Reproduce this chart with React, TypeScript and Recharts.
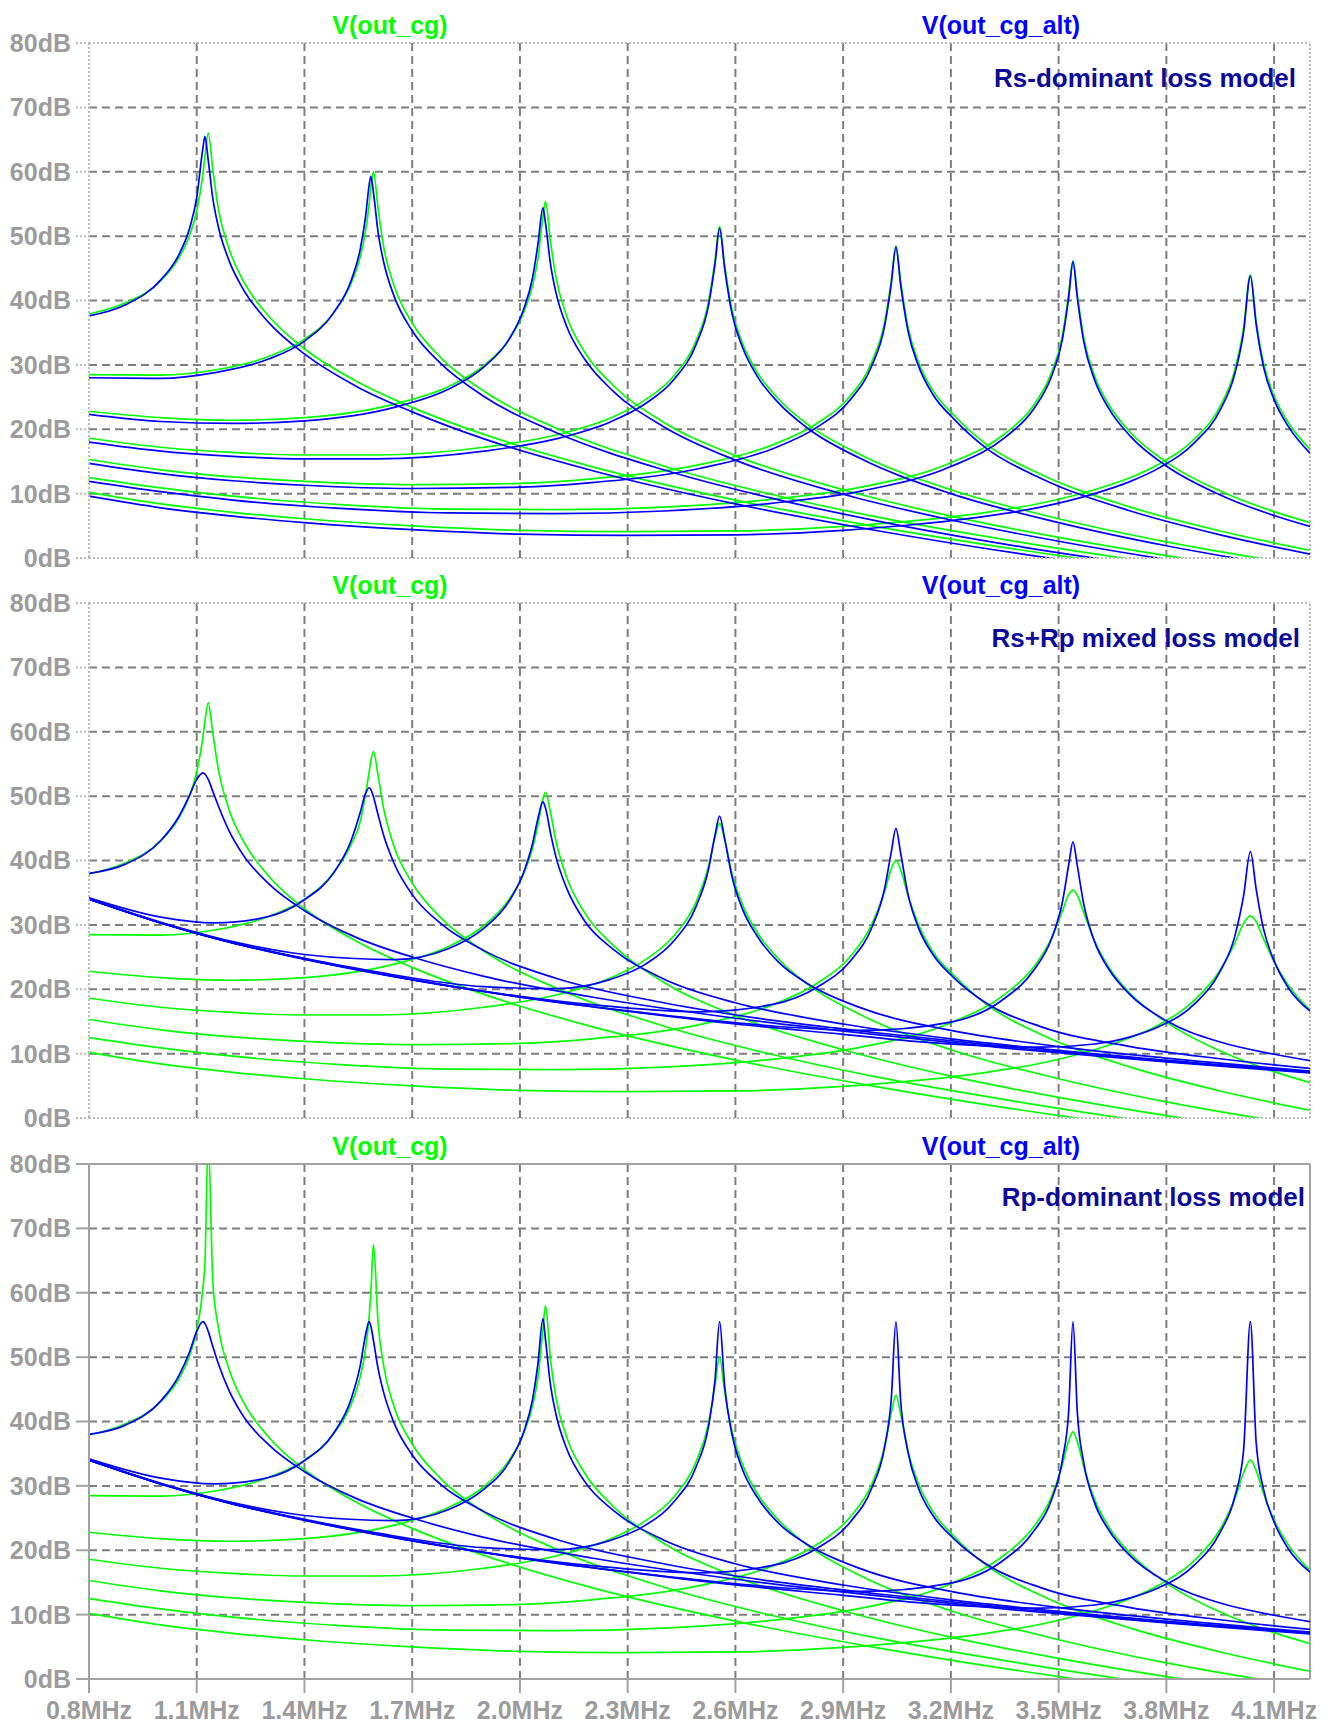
import React from "react";
import { LineChart, Line, XAxis, YAxis, ReferenceLine } from "recharts";

// axis ticks
const X_TICKS = [0.8, 1.1, 1.4, 1.7, 2.0, 2.3, 2.6, 2.9, 3.2, 3.5, 3.8, 4.1];
const Y_TICKS = [0, 10, 20, 30, 40, 50, 60, 70, 80];

// frequency points (MHz) read for each of the 7 stepped resonances
const F1 = [0.8, 0.9, 1.0, 1.05, 1.08, 1.1, 1.117, 1.123, 1.132, 1.145, 1.16, 1.19, 1.23, 1.3, 1.4, 1.55, 1.7, 1.9, 2.2, 2.6, 3.0, 3.4, 3.8, 4.2];
const F2 = [0.8, 1.0, 1.15, 1.3, 1.4, 1.48, 1.53, 1.555, 1.57, 1.58, 1.585, 1.592, 1.605, 1.62, 1.65, 1.7, 1.78, 1.9, 2.1, 2.4, 2.7, 3.0, 3.4, 3.8, 4.2];
const F3 = [0.8, 1.0, 1.2, 1.4, 1.65, 1.8, 1.9, 1.97, 2.01, 2.035, 2.05, 2.064, 2.071, 2.085, 2.1, 2.13, 2.18, 2.26, 2.4, 2.6, 2.9, 3.2, 3.5, 3.9, 4.2];
const F4 = [0.8, 1.0, 1.2, 1.4, 1.6, 1.9, 2.1, 2.25, 2.35, 2.43, 2.49, 2.525, 2.543, 2.556, 2.57, 2.59, 2.62, 2.66, 2.72, 2.8, 2.95, 3.2, 3.5, 3.8, 4.2];
const F5 = [0.8, 1.0, 1.2, 1.4, 1.7, 2.0, 2.2, 2.5, 2.7, 2.83, 2.92, 2.98, 3.015, 3.034, 3.047, 3.06, 3.08, 3.11, 3.15, 3.21, 3.3, 3.45, 3.7, 3.95, 4.2];
const F6 = [0.8, 1.0, 1.2, 1.5, 1.8, 2.1, 2.4, 2.7, 2.95, 3.2, 3.35, 3.43, 3.48, 3.51, 3.528, 3.54, 3.552, 3.57, 3.6, 3.64, 3.7, 3.8, 3.95, 4.1, 4.2];
const F7 = [0.8, 1.0, 1.2, 1.4, 1.7, 2.0, 2.3, 2.6, 2.9, 3.1, 3.3, 3.45, 3.6, 3.7, 3.78, 3.88, 3.95, 3.99, 4.015, 4.034, 4.05, 4.07, 4.1, 4.14, 4.2];

// Rs-dominant, V(out_cg) in dB
const RS_CG_1 = [37.9, 39.6, 43.1, 46.6, 50.1, 53.9, 59.5, 62.5, 66.0, 60.2, 54.3, 48.0, 43.0, 37.6, 32.5, 27.3, 23.4, 19.2, 14.2, 9.0, 4.8, 1.2, -1.9, -4.6];
const RS_CG_2 = [28.5, 28.4, 29.2, 31.3, 34.0, 38.0, 42.7, 46.7, 50.8, 54.9, 57.6, 60.0, 54.3, 48.5, 42.2, 36.5, 31.1, 25.9, 20.2, 14.3, 9.9, 6.3, 2.4, -1.0, -3.9];
const RS_CG_3 = [22.8, 21.8, 21.4, 21.8, 23.9, 26.6, 29.9, 34.0, 38.1, 42.3, 46.5, 53.0, 55.4, 49.2, 43.7, 37.6, 32.0, 26.8, 21.1, 15.9, 10.6, 6.5, 3.2, -0.5, -2.9];
const RS_CG_4 = [18.6, 17.2, 16.4, 16.0, 16.0, 17.2, 19.1, 21.7, 24.6, 28.4, 33.7, 39.8, 46.1, 51.5, 45.5, 38.7, 33.3, 28.9, 24.7, 20.8, 16.0, 10.6, 6.1, 2.5, -1.3];
const RS_CG_5 = [15.3, 13.7, 12.6, 11.9, 11.4, 11.6, 12.3, 14.5, 17.5, 21.0, 25.2, 30.5, 36.5, 43.1, 48.5, 43.0, 36.0, 30.4, 26.0, 22.1, 17.6, 13.0, 7.9, 4.2, 1.2];
const RS_CG_6 = [12.5, 10.9, 9.6, 8.3, 7.6, 7.5, 7.9, 9.1, 11.0, 14.8, 19.3, 23.7, 28.8, 34.4, 41.0, 46.2, 40.9, 34.2, 28.3, 23.8, 19.5, 14.9, 10.4, 7.2, 5.5];
const RS_CG_7 = [10.2, 8.4, 7.1, 6.1, 5.0, 4.3, 4.1, 4.2, 4.9, 5.8, 7.1, 8.5, 10.6, 12.5, 14.6, 18.6, 23.6, 29.1, 35.7, 44.0, 36.8, 30.4, 25.2, 21.0, 16.9];

// Rs-dominant, V(out_cg_alt)
const RS_ALT_1 = [37.6, 39.3, 43.2, 47.1, 51.2, 56.0, 63.6, 65.5, 61.8, 55.8, 51.5, 46.2, 41.7, 36.6, 31.7, 26.5, 22.7, 18.5, 13.6, 8.4, 4.2, 0.6, -2.5, -5.2];
const RS_ALT_2 = [28.0, 27.9, 28.8, 30.9, 33.7, 38.0, 43.1, 47.9, 53.0, 57.9, 59.3, 56.8, 50.6, 46.1, 40.6, 35.3, 30.2, 25.1, 19.5, 13.7, 9.3, 5.7, 1.7, -1.6, -4.5];
const RS_ALT_3 = [22.3, 21.2, 20.9, 21.3, 23.4, 26.2, 29.7, 34.0, 38.6, 43.5, 48.7, 54.4, 52.1, 45.7, 41.3, 36.0, 30.9, 25.9, 20.4, 15.2, 9.9, 5.9, 2.6, -1.1, -3.5];
const RS_ALT_4 = [18.0, 16.6, 15.8, 15.4, 15.4, 16.6, 18.5, 21.1, 24.0, 27.8, 33.1, 39.2, 45.6, 51.2, 45.0, 38.1, 32.7, 28.3, 24.1, 20.2, 15.4, 10.0, 5.5, 1.9, -1.9];
const RS_ALT_5 = [14.7, 13.1, 12.0, 11.3, 10.8, 11.0, 11.7, 13.9, 16.9, 20.4, 24.6, 29.9, 35.9, 42.6, 48.3, 42.5, 35.4, 29.8, 25.4, 21.5, 17.0, 12.4, 7.3, 3.6, 0.6];
const RS_ALT_6 = [11.9, 10.3, 9.0, 7.7, 7.0, 6.9, 7.3, 8.5, 10.4, 14.2, 18.7, 23.1, 28.2, 33.8, 40.5, 46.0, 40.5, 33.6, 27.7, 23.2, 18.9, 14.3, 9.8, 6.6, 4.9];
const RS_ALT_7 = [9.6, 7.8, 6.5, 5.5, 4.4, 3.7, 3.5, 3.6, 4.3, 5.2, 6.5, 7.9, 10.0, 11.9, 14.0, 18.0, 23.0, 28.5, 35.1, 43.8, 36.3, 29.8, 24.6, 20.4, 16.3];

// Rs+Rp mixed, V(out_cg)
const MIX_CG_1 = [37.9, 39.6, 43.1, 46.6, 50.1, 53.8, 59.1, 61.7, 64.5, 59.7, 54.2, 47.9, 43.0, 37.6, 32.5, 27.3, 23.4, 19.2, 14.2, 9.0, 4.8, 1.2, -1.9, -4.6];
const MIX_CG_2 = [28.5, 28.4, 29.2, 31.3, 34.0, 38.0, 42.5, 46.0, 50.3, 53.7, 55.5, 56.9, 53.2, 48.2, 42.1, 36.5, 31.1, 25.9, 20.2, 14.3, 9.9, 6.3, 2.4, -1.0, -3.9];
const MIX_CG_3 = [22.8, 21.8, 21.4, 21.8, 23.9, 26.6, 29.9, 34.0, 37.9, 41.9, 45.5, 49.6, 50.6, 47.5, 43.1, 37.4, 31.9, 26.8, 21.1, 15.9, 10.6, 6.5, 3.2, -0.5, -2.9];
const MIX_CG_4 = [18.6, 17.2, 16.4, 16.0, 16.0, 17.2, 19.1, 21.7, 24.6, 28.4, 33.5, 39.1, 43.6, 45.8, 43.2, 38.1, 33.1, 28.9, 24.7, 20.8, 16.0, 10.6, 6.1, 2.5, -1.3];
const MIX_CG_5 = [15.3, 13.7, 12.6, 11.9, 11.4, 11.6, 12.3, 14.5, 17.5, 21.0, 25.1, 30.1, 35.1, 38.7, 40.0, 38.6, 34.7, 30.0, 25.8, 22.1, 17.6, 13.0, 7.9, 4.2, 1.2];
const MIX_CG_6 = [12.5, 10.9, 9.6, 8.3, 7.6, 7.5, 7.9, 9.1, 11.0, 14.8, 19.2, 23.4, 27.9, 32.1, 34.7, 35.4, 34.6, 31.9, 27.5, 23.4, 19.3, 14.9, 10.4, 7.2, 5.5];
const MIX_CG_7 = [10.2, 8.4, 7.1, 6.1, 5.0, 4.3, 4.1, 4.2, 4.9, 5.8, 7.1, 8.5, 10.6, 12.5, 14.5, 18.4, 23.0, 27.1, 30.2, 31.4, 30.5, 27.9, 24.3, 20.6, 16.8];

// Rs+Rp mixed, V(out_cg_alt)
const MIX_ALT_1 = [38.0, 39.4, 43.1, 46.8, 50.1, 52.6, 53.6, 53.4, 52.6, 50.7, 48.5, 44.6, 40.8, 36.4, 32.2, 27.9, 25.0, 22.0, 18.8, 15.5, 12.9, 10.6, 8.7, 7.0];
const MIX_ALT_2 = [34.2, 31.2, 30.3, 31.3, 33.9, 38.0, 43.1, 47.4, 50.4, 51.3, 51.0, 49.9, 47.1, 44.0, 39.5, 34.7, 30.2, 26.0, 21.7, 17.9, 15.2, 13.2, 10.8, 8.8, 7.1];
const MIX_ALT_3 = [34.0, 30.4, 27.4, 25.4, 24.6, 26.3, 29.5, 33.7, 38.1, 42.6, 46.5, 49.1, 48.2, 44.3, 40.6, 35.7, 30.6, 26.2, 21.6, 17.9, 14.6, 12.3, 10.5, 8.5, 7.2];
const MIX_ALT_4 = [34.0, 30.3, 27.2, 24.8, 22.7, 20.4, 20.1, 21.5, 23.9, 27.6, 32.8, 38.6, 43.9, 46.9, 43.4, 37.6, 32.4, 28.3, 24.2, 20.9, 17.1, 13.6, 11.1, 9.3, 7.3];
const MIX_ALT_5 = [34.0, 30.3, 27.2, 24.7, 21.5, 18.9, 17.6, 16.5, 17.6, 20.4, 24.4, 29.6, 35.5, 41.3, 45.0, 41.2, 34.9, 29.5, 25.4, 21.7, 17.8, 14.2, 11.1, 9.2, 7.7];
const MIX_ALT_6 = [34.0, 30.3, 27.2, 23.5, 20.5, 18.0, 16.0, 14.3, 13.6, 14.9, 18.6, 22.9, 27.8, 33.4, 39.3, 42.9, 39.2, 33.2, 27.4, 23.1, 19.1, 15.1, 11.8, 9.9, 8.9];
const MIX_ALT_7 = [34.0, 30.3, 27.2, 24.7, 21.5, 18.8, 16.6, 14.6, 13.0, 11.9, 11.2, 11.0, 11.5, 12.6, 14.2, 17.8, 22.8, 28.1, 34.5, 41.4, 35.6, 29.5, 24.4, 20.2, 16.6];

// Rp-dominant, V(out_cg)
const RP_CG_1 = [37.9, 39.6, 43.1, 46.6, 50.2, 54.2, 60.6, 64.9, 84.0, 61.5, 54.7, 48.1, 43.0, 37.6, 32.5, 27.3, 23.4, 19.2, 14.2, 9.0, 4.8, 1.2, -1.9, -4.6];
const RP_CG_2 = [28.5, 28.4, 29.2, 31.3, 34.0, 38.0, 42.7, 46.9, 51.2, 56.2, 60.2, 67.5, 55.3, 48.8, 42.2, 36.5, 31.1, 25.9, 20.2, 14.3, 9.9, 6.3, 2.4, -1.0, -3.9];
const RP_CG_3 = [22.8, 21.8, 21.4, 21.8, 23.9, 26.6, 29.9, 34.0, 38.1, 42.4, 46.8, 54.2, 58.0, 49.7, 43.8, 37.6, 32.0, 26.8, 21.1, 15.9, 10.6, 6.5, 3.2, -0.5, -2.9];
const RP_CG_4 = [18.6, 17.2, 16.4, 16.0, 16.0, 17.2, 19.1, 21.7, 24.6, 28.4, 33.7, 39.7, 45.6, 50.0, 44.7, 38.6, 33.3, 28.9, 24.7, 20.8, 16.0, 10.6, 6.1, 2.5, -1.3];
const RP_CG_5 = [15.3, 13.7, 12.6, 11.9, 11.4, 11.6, 12.3, 14.5, 17.5, 21.0, 25.2, 30.3, 36.0, 41.3, 44.1, 41.2, 35.5, 30.3, 26.0, 22.1, 17.6, 13.0, 7.9, 4.2, 1.2];
const RP_CG_6 = [12.5, 10.9, 9.6, 8.3, 7.6, 7.5, 7.9, 9.1, 11.0, 14.8, 19.3, 23.6, 28.3, 33.2, 37.0, 38.4, 36.9, 33.0, 27.9, 23.6, 19.5, 14.9, 10.4, 7.2, 5.5];
const RP_CG_7 = [10.2, 8.4, 7.1, 6.1, 5.0, 4.3, 4.1, 4.2, 4.9, 5.8, 7.1, 8.5, 10.6, 12.5, 14.6, 18.5, 23.3, 27.9, 32.0, 34.0, 32.4, 28.9, 24.7, 20.8, 16.9];

// Rp-dominant, V(out_cg_alt)
const RP_ALT_1 = [38.0, 39.4, 43.2, 47.1, 50.8, 54.0, 55.5, 55.2, 54.0, 51.6, 49.0, 44.8, 40.8, 36.4, 32.2, 27.9, 25.0, 22.0, 18.8, 15.5, 12.9, 10.6, 8.7, 7.0];
const RP_ALT_2 = [34.2, 31.2, 30.3, 31.3, 33.9, 38.1, 43.5, 48.6, 53.4, 55.5, 54.8, 52.6, 48.2, 44.6, 39.7, 34.8, 30.2, 26.0, 21.7, 17.9, 15.2, 13.2, 10.8, 8.8, 7.1];
const RP_ALT_3 = [34.0, 30.4, 27.4, 25.4, 24.6, 26.3, 29.5, 33.7, 38.3, 43.4, 48.9, 56.0, 52.8, 45.7, 41.2, 35.8, 30.7, 26.2, 21.6, 17.9, 14.6, 12.3, 10.5, 8.5, 7.2];
const RP_ALT_4 = [34.0, 30.3, 27.2, 24.8, 22.7, 20.4, 20.1, 21.5, 23.9, 27.6, 32.9, 39.2, 46.3, 55.5, 45.5, 38.1, 32.5, 28.3, 24.2, 20.9, 17.1, 13.6, 11.1, 9.3, 7.3];
const RP_ALT_5 = [34.0, 30.3, 27.2, 24.7, 21.5, 18.9, 17.6, 16.5, 17.6, 20.4, 24.4, 29.7, 35.9, 43.5, 55.5, 43.3, 35.4, 29.6, 25.4, 21.7, 17.8, 14.2, 11.1, 9.2, 7.7];
const RP_ALT_6 = [34.0, 30.3, 27.2, 23.5, 20.5, 18.0, 16.0, 14.3, 13.6, 14.9, 18.6, 22.9, 27.8, 33.9, 41.6, 55.5, 41.5, 33.6, 27.4, 23.1, 19.1, 15.1, 11.8, 9.9, 8.9];
const RP_ALT_7 = [34.0, 30.3, 27.2, 24.7, 21.5, 18.8, 16.6, 14.6, 13.0, 11.9, 11.2, 11.0, 11.5, 12.6, 14.2, 17.8, 22.8, 28.2, 35.5, 55.5, 36.8, 29.6, 24.4, 20.2, 16.6];

const FREQS = [F1, F2, F3, F4, F5, F6, F7];

const GREEN = "#00ff00";
const BLUE = "#0000ff";
const NOTE = "#0c0c98";
const GRAY = "#9c9c9c";
const FONT = "'Liberation Sans', Arial, Helvetica, sans-serif";

const PANELS = [
  {
    top: 0,
    height: 588,
    xh: 30,
    cg: [RS_CG_1, RS_CG_2, RS_CG_3, RS_CG_4, RS_CG_5, RS_CG_6, RS_CG_7],
    alt: [RS_ALT_1, RS_ALT_2, RS_ALT_3, RS_ALT_4, RS_ALT_5, RS_ALT_6, RS_ALT_7],
    note: "Rs-dominant loss model",
    noteX: 1296,
    noteY: 78,
    solid: false,
    labels: false,
  },
  {
    top: 560,
    height: 588,
    xh: 30,
    cg: [MIX_CG_1, MIX_CG_2, MIX_CG_3, MIX_CG_4, MIX_CG_5, MIX_CG_6, MIX_CG_7],
    alt: [MIX_ALT_1, MIX_ALT_2, MIX_ALT_3, MIX_ALT_4, MIX_ALT_5, MIX_ALT_6, MIX_ALT_7],
    note: "Rs+Rp mixed loss model",
    noteX: 1300,
    noteY: 78,
    solid: false,
    labels: false,
  },
  {
    top: 1121,
    height: 606,
    xh: 48,
    cg: [RP_CG_1, RP_CG_2, RP_CG_3, RP_CG_4, RP_CG_5, RP_CG_6, RP_CG_7],
    alt: [RP_ALT_1, RP_ALT_2, RP_ALT_3, RP_ALT_4, RP_ALT_5, RP_ALT_6, RP_ALT_7],
    note: "Rp-dominant loss model",
    noteX: 1305,
    noteY: 76,
    solid: true,
    labels: true,
  },
];

function points(freqs: number[], values: number[]) {
  return freqs.map((f, i) => ({ f, v: values[i] }));
}

function Caption({ x, y, color, size, end, children }: any) {
  return (
    <div
      style={{
        position: "absolute",
        left: x,
        top: y,
        transform: end ? "translate(-100%, -50%)" : "translate(-50%, -50%)",
        color,
        fontSize: size,
        fontWeight: 700,
        fontFamily: FONT,
        lineHeight: 1,
        whiteSpace: "nowrap",
      }}
    >
      {children}
    </div>
  );
}

function Panel({ p }: any) {
  const frame = p.solid
    ? { stroke: "#a2a2a2", strokeWidth: 2 }
    : { stroke: "#bcbcbc", strokeWidth: 2, strokeDasharray: "2 2" };
  const grid = { stroke: "#7e7e7e", strokeWidth: 2, strokeDasharray: "8 5" };
  const tickStyle = { fill: GRAY, fontSize: 25, fontWeight: 700, fontFamily: FONT };

  return (
    <div style={{ position: "absolute", left: 0, top: p.top }}>
      <LineChart
        width={1328}
        height={p.height}
        margin={{ top: 43, right: 18, bottom: 0, left: 0 }}
      >
        <XAxis
          type="number"
          dataKey="f"
          domain={[0.8, 4.2]}
          ticks={X_TICKS}
          interval={0}
          allowDataOverflow
          height={p.xh}
          tickSize={p.labels ? 14 : 10}
          tickMargin={8}
          axisLine={frame}
          tickLine={frame}
          tick={p.labels ? tickStyle : false}
          tickFormatter={(v: number) => v.toFixed(1) + "MHz"}
        />
        <YAxis
          type="number"
          domain={[0, 80]}
          ticks={Y_TICKS}
          interval={0}
          allowDataOverflow
          width={89}
          tickSize={13}
          tickMargin={5}
          axisLine={frame}
          tickLine={frame}
          tick={tickStyle}
          tickFormatter={(v: number) => v + "dB"}
        />

        {Y_TICKS.slice(1, -1).map((v) => (
          <ReferenceLine key={"h" + v} y={v} {...grid} />
        ))}
        {X_TICKS.slice(1).map((v) => (
          <ReferenceLine key={"v" + v} x={v} {...grid} />
        ))}
        <ReferenceLine y={80} {...frame} />
        <ReferenceLine x={4.2} {...frame} />

        {p.cg.map((vals: number[], i: number) => (
          <Line
            key={"cg" + i}
            data={points(FREQS[i], vals)}
            dataKey="v"
            type="monotone"
            stroke={GREEN}
            strokeWidth={1.7}
            dot={false}
            activeDot={false}
            isAnimationActive={false}
          />
        ))}
        {p.alt.map((vals: number[], i: number) => (
          <Line
            key={"alt" + i}
            data={points(FREQS[i], vals)}
            dataKey="v"
            type="monotone"
            stroke={BLUE}
            strokeWidth={1.7}
            dot={false}
            activeDot={false}
            isAnimationActive={false}
          />
        ))}
      </LineChart>
    </div>
  );
}

export default function App() {
  return (
    <div
      style={{
        position: "relative",
        width: 1328,
        height: 1727,
        background: "#fff",
        overflow: "hidden",
      }}
    >
      <style>{"body{margin:0}"}</style>
      {PANELS.map((p, i) => (
        <Panel key={i} p={p} />
      ))}
      {PANELS.map((p, i) => (
        <React.Fragment key={"t" + i}>
          <Caption x={390} y={p.top + 25} color={GREEN} size={25}>
            V(out_cg)
          </Caption>
          <Caption x={1001} y={p.top + 25} color={BLUE} size={25}>
            V(out_cg_alt)
          </Caption>
          <Caption x={p.noteX} y={p.top + p.noteY} color={NOTE} size={26} end>
            {p.note}
          </Caption>
        </React.Fragment>
      ))}
    </div>
  );
}
